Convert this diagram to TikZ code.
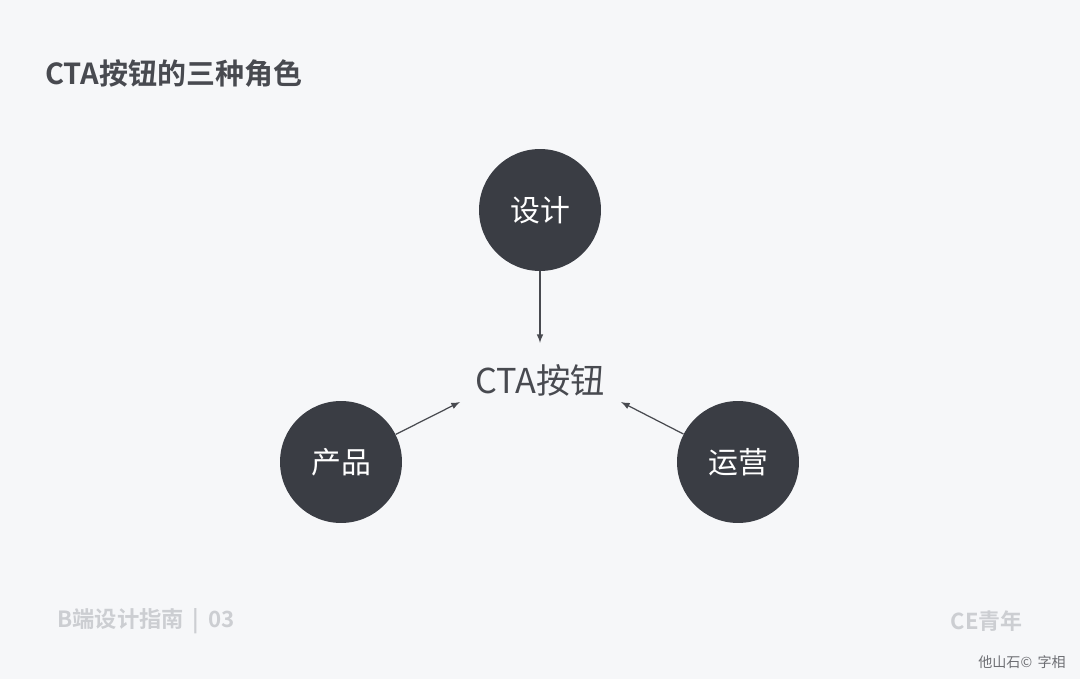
\documentclass[tikz,border=0pt]{standalone}
\usepackage{fontspec}
\newfontfamily\cjk{Noto Sans CJK SC}
\newfontfamily\cjkbold{Noto Sans CJK SC Bold}
\usetikzlibrary{positioning}
\definecolor{bgpaper}{RGB}{246,247,249}
\definecolor{roledark}{RGB}{58,61,68}
\definecolor{titlegray}{RGB}{72,74,80}
\definecolor{footgray}{RGB}{204,206,210}
\begin{document}
\begin{tikzpicture}[
    x=0.02cm, y=-0.02cm,
    role/.style={circle, fill=roledark, minimum size=2.44cm, inner sep=0pt,
                 text=white, font=\cjk\fontsize{17}{17}\selectfont},
    arrow/.style={-latex, draw=titlegray, line width=0.7pt}
]
% Background
\fill[bgpaper] (0,0) rectangle (1080,679);
\useasboundingbox (0,0) rectangle (1080,679);

% Title and footers
\node[anchor=west, inner sep=0pt, text=titlegray, font=\cjkbold\fontsize{16.5}{16.5}\selectfont] (title) at (45,73) {CTA按钮的三种角色};
\node[anchor=west, inner sep=0pt, text=footgray, font=\cjkbold\fontsize{12.7}{12.7}\selectfont] (series) at (57,621) {B端设计指南 \,|\, 03};
\node[anchor=east, inner sep=0pt, text=footgray, font=\cjkbold\fontsize{12.5}{12.5}\selectfont] (brand) at (1023,621) {CE青年};
\node[anchor=east, text=titlegray!80, font=\cjk\fontsize{8}{8}\selectfont] (mark) at (1072,662) {他山石© \,字相};

% Roles
\node[role] (design) at (540,210) {设计};
\node[role] (product) at (341,462) {产品};
\node[role] (ops) at (738,462) {运营};
\node[text=titlegray, font=\cjk\fontsize{19.5}{19.5}\selectfont] (cta) at (540,380) {CTA按钮};
\coordinate (ctatop) at (540,343);
\coordinate (ctaleft) at (460,402);
\coordinate (ctaright) at (621,402);

% Arrows
\draw[arrow] (design) -- (ctatop);
\draw[arrow] (product) -- (ctaleft);
\draw[arrow] (ops) -- (ctaright);

\end{tikzpicture}
\end{document}
